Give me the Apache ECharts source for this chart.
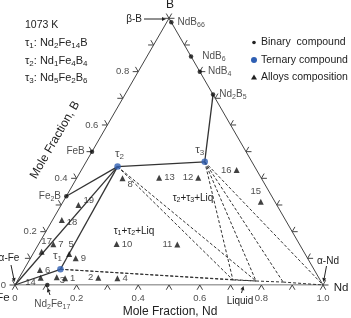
<!DOCTYPE html>
<html><head><meta charset="utf-8">
<script src="https://cdn.jsdelivr.net/npm/echarts@6/dist/echarts.min.js"></script>
<style>html,body{margin:0;padding:0;background:#fff;}#c{width:351px;height:318px;}</style>
</head><body><div id="c"></div>
<script>
// ---- data (mole fractions: Nd, B; Fe = remainder) ----
const binaryNames = ['NdB66','NdB6','NdB4','Nd2B5','FeB','Fe2B','Nd2Fe17'];
const binaryNd    = [0.015, 0.143, 0.200, 0.286, 0.000, 0.000, 0.105];
const binaryB     = [0.985, 0.857, 0.800, 0.714, 0.500, 0.333, 0.000];
const ternaryNames = ['τ1','τ2','τ3'];
const ternaryNd    = [0.118, 0.111, 0.385];
const ternaryB     = [0.059, 0.444, 0.462];
const alloyIds = ['1','2','3','4','5','6','7','8','9','10','11','12','13','14','15','16','17','18','19'];
const alloyNd  = [0.150,0.257,0.121,0.320,0.118,0.053,0.048,0.149,0.147,0.253,0.451,0.394,0.267,0.070,0.642,0.504,0.024,0.030,0.056];
const alloyB   = [0.025,0.027,0.029,0.025,0.116,0.056,0.153,0.400,0.100,0.154,0.152,0.402,0.402,0.027,0.312,0.431,0.125,0.244,0.300];
const liquidNames = ['L1','L2','L3'];
const liquidNd = [0.698, 0.775, 0.865];
const liquidB  = [0.019, 0.015, 0.011];
const tickValues = [0,0.1,0.2,0.3,0.4,0.5,0.6,0.7,0.8,0.9,1.0];
const bottomTickValues = [0,0.2,0.4,0.6,0.8,1.0];
const bottomTickLabels = ['0','0.2','0.4','0.6','0.8','1.0'];
const leftTickValues = [0,0.2,0.4,0.6,0.8];
const leftTickLabels = ['0','0.2','0.4','0.6','0.8'];
const solidTies  = [['Fe','τ1'],['Fe','τ2'],['τ1','τ2'],['Fe2B','τ2'],['τ2','τ3'],['τ3','Nd2B5']];
const dashedTies = [['τ1','L1'],['τ1','L2'],['τ2','L1'],['τ2','L2'],['τ3','L1'],['τ3','L2'],['τ3','L3'],['τ3','Nd'],['L1','L2'],['L2','L3'],['L3','Nd']];

// ---- styling ----
const FONT = '"Liberation Sans", Arial, sans-serif';
const INK = '#222';
const BLUE = '#2f5fb3';
const S3 = Math.sqrt(3) / 2;
function xy(nd, b) { return [nd + b / 2, b * S3]; }
const pts = { Fe: xy(0, 0), Nd: xy(1, 0), B: xy(0, 1) };
binaryNames.forEach((n, i) => pts[n] = xy(binaryNd[i], binaryB[i]));
ternaryNames.forEach((n, i) => pts[n] = xy(ternaryNd[i], ternaryB[i]));
liquidNames.forEach((n, i) => pts[n] = xy(liquidNd[i], liquidB[i]));

function sub(s) { // 'Nd2Fe17' -> rich tokens with subscripts
  return s.replace(/([^0-9]+)|([0-9]+)/g, (m, a, d) => a ? '{n|' + a + '}' : '{s|' + d + '}');
}
const rich = (fs) => ({
  n: { fontSize: fs, fontFamily: FONT, color: INK, lineHeight: fs + 2 },
  s: { fontSize: Math.round(fs * 0.7), fontFamily: FONT, color: INK, lineHeight: Math.round(fs * 0.7) + 1, verticalAlign: 'bottom' }
});

const binaryLabel = {
  NdB66: { position: 'right', distance: 4 },
  NdB6: { position: 'right', distance: 9 },
  NdB4: { position: 'right', distance: 6 },
  Nd2B5: { position: 'right', distance: 4 },
  FeB: { position: 'left', distance: 5 },
  Fe2B: { position: 'left', distance: 3 },
  Nd2Fe17: { position: 'bottom', distance: 11, offset: [5, 0] }
};
const ternaryLabel = {
  'τ1': { position: 'top', distance: 3, offset: [-3, 0] },
  'τ2': { position: 'top', distance: 3, offset: [2, 0] },
  'τ3': { position: 'top', distance: 2, offset: [-5, 0] }
};
const alloyLabel = {
  '1': ['right', [0, 0]], '2': ['left', [0, 0]], '3': ['right', [-2, 3]], '4': ['right', [0, 0]],
  '5': ['top', [2, 0]], '6': ['right', [0, 0]], '7': ['right', [0, 0]], '8': ['right', [0, 6]],
  '9': ['right', [0, 0]], '10': ['right', [0, 0]], '11': ['left', [0, 0]], '12': ['left', [0, 0]],
  '13': ['right', [0, 0]], '14': ['left', [0, 5]], '15': ['top', [-5, 0]], '16': ['left', [0, 0]],
  '17': ['top', [5, 0]], '18': ['right', [0, 2]], '19': ['right', [0, -5]]
};

// ticks: edges 0 bottom (Nd), 1 left (B), 2 right
const tickData = [];
tickValues.forEach(t => {
  tickData.push(xy(t, 0).concat([0]));
  tickData.push(xy(0, t).concat([1]));
  tickData.push(xy(1 - t, t).concat([2]));
});
const normals = [[0, 1], [-0.866, -0.5], [0.866, -0.5]];
function rot(v, a) { const c = Math.cos(a), s = Math.sin(a); return [v[0] * c - v[1] * s, v[0] * s + v[1] * c]; }

const chart = echarts.init(document.getElementById('c'), null, { renderer: 'canvas' });

function arrow(x1, y1, x2, y2) {
  const dx = x2 - x1, dy = y2 - y1, L = Math.hypot(dx, dy), ux = dx / L, uy = dy / L;
  const h = 4, w = 2;
  const bx = x2 - ux * h, by = y2 - uy * h;
  return [
    { type: 'line', shape: { x1, y1, x2: bx, y2: by }, style: { stroke: INK, lineWidth: 1 } },
    { type: 'polygon', shape: { points: [[x2, y2], [bx - uy * w, by + ux * w], [bx + uy * w, by - ux * w]] }, style: { fill: INK } }
  ];
}
function txt(x, y, text, fs, opts) {
  return Object.assign({ type: 'text', x, y, style: { text, rich: rich(fs), fontSize: fs, fontFamily: FONT, fill: INK, align: 'center', verticalAlign: 'middle' } }, opts || {});
}
function txtL(x, y, text, fs) {
  const t = txt(x, y, text, fs); t.style.align = 'left'; return t;
}

const graphics = [
  txtL(25, 25, '1073 K', 10.5),
  txtL(25, 43, '{n|τ}{s|1}{n|: Nd}{s|2}{n|Fe}{s|14}{n|B}', 11),
  txtL(25, 61, '{n|τ}{s|2}{n|: Nd}{s|1}{n|Fe}{s|4}{n|B}{s|4}', 11),
  txtL(25, 78, '{n|τ}{s|3}{n|: Nd}{s|5}{n|Fe}{s|2}{n|B}{s|6}', 11),
  { type: 'circle', shape: { cx: 254, cy: 42.5, r: 1.8 }, style: { fill: INK } },
  { type: 'circle', shape: { cx: 254, cy: 60, r: 3 }, style: { fill: BLUE } },
  { type: 'polygon', shape: { points: [[254, 74.5], [251, 79.5], [257, 79.5]] }, style: { fill: INK } },
  txtL(261, 42, 'Binary  compound', 10.5),
  txtL(261, 60, 'Ternary compound', 10.5),
  txtL(261, 77, 'Alloys composition', 10.5),
  txt(170, 312, 'Mole Fraction, Nd', 12),
  txt(55, 140, 'Mole Fraction, B', 12, { rotation: Math.PI / 3 }),
  txt(170, 5, 'B', 12),
  txt(341, 288, 'Nd', 11.5),
  txt(3, 298, 'Fe', 11.5),
  txt(142, 19, 'β-B', 10, { style: { text: 'β-B', fontSize: 10, fontFamily: FONT, fill: INK, align: 'right', verticalAlign: 'middle' } }),
  txt(9, 258, 'α-Fe', 10),
  txt(328, 261, 'α-Nd', 10),
  txt(240, 301, 'Liquid', 10),
  txt(134, 231, '{n|τ}{s|1}{n|+τ}{s|2}{n|+Liq}', 10),
  txt(193, 198, '{n|τ}{s|2}{n|+τ}{s|3}{n|+Liq}', 10)
].concat(arrow(144, 19, 166, 19), arrow(11, 265, 14.5, 282), arrow(326.5, 266, 323.5, 282), arrow(241.5, 293, 243.5, 286), arrow(50, 295, 47.5, 288));

chart.setOption({
  animation: false,
  backgroundColor: '#fff',
  grid: { left: 15, right: 28, top: 18.3, bottom: 33, containLabel: false },
  xAxis: { type: 'value', min: 0, max: 1, show: false },
  yAxis: { type: 'value', min: 0, max: S3, show: false },
  graphic: graphics,
  series: [
    { type: 'line', data: [pts.Fe, pts.Nd, pts.B, pts.Fe], symbol: 'none', silent: true, lineStyle: { color: '#444', width: 1 }, z: 2 },
    { type: 'lines', coordinateSystem: 'cartesian2d', silent: true, z: 3,
      lineStyle: { color: '#333', width: 1.3, opacity: 1 },
      data: solidTies.map(([a, b]) => ({ coords: [pts[a], pts[b]] })) },
    { type: 'lines', coordinateSystem: 'cartesian2d', silent: true, z: 3,
      lineStyle: { color: '#333', width: 1, type: [3, 2], opacity: 1 },
      data: dashedTies.map(([a, b]) => ({ coords: [pts[a], pts[b]] })) },
    { type: 'custom', silent: true, z: 4, data: tickData, encode: { x: 0, y: 1 },
      renderItem: (params, api) => {
        const p = api.coord([api.value(0), api.value(1)]);
        const n = normals[api.value(2)], L = 5.5;
        const a = rot(n, Math.PI / 6), b = rot(n, -Math.PI / 6);
        return { type: 'polyline', shape: { points: [[p[0] + a[0] * L, p[1] + a[1] * L], p, [p[0] + b[0] * L, p[1] + b[1] * L]] },
          style: { stroke: '#444', fill: null, lineWidth: 1 } };
      } },
    { type: 'scatter', silent: true, symbolSize: 0, z: 5,
      data: bottomTickValues.map((t, i) => ({ value: xy(t, 0), name: bottomTickLabels[i] })),
      label: { show: true, position: 'bottom', distance: 8, formatter: '{b}', fontSize: 9.5, fontFamily: FONT, color: INK } },
    { type: 'scatter', silent: true, symbolSize: 0, z: 5,
      data: leftTickValues.map((t, i) => ({ value: xy(0, t), name: leftTickLabels[i] })),
      label: { show: true, position: 'left', distance: 9, formatter: '{b}', fontSize: 9.5, fontFamily: FONT, color: INK } },
    { type: 'scatter', silent: true, symbol: 'circle', symbolSize: 4.5, z: 6, itemStyle: { color: '#111' },
      data: binaryNames.map((n, i) => ({ value: pts[n], name: n, label: binaryLabel[n] })),
      label: { show: true, formatter: p => sub(p.name), rich: rich(10) } },
    { type: 'scatter', silent: true, symbol: 'circle', symbolSize: 6.5, z: 7, itemStyle: { color: BLUE },
      data: ternaryNames.map((n, i) => ({ value: pts[n], name: n, label: ternaryLabel[n] })),
      label: { show: true, formatter: p => sub(p.name), rich: rich(11.5) } },
    { type: 'scatter', silent: true, symbol: 'triangle', symbolSize: 6, z: 7, itemStyle: { color: '#111' },
      data: alloyIds.map((id, i) => ({ value: xy(alloyNd[i], alloyB[i]), name: id,
        label: { position: alloyLabel[id][0], offset: alloyLabel[id][1], distance: 2 } })),
      label: { show: true, formatter: '{b}', fontSize: 9.5, fontFamily: FONT, color: INK } }
  ]
});
</script></body></html>
